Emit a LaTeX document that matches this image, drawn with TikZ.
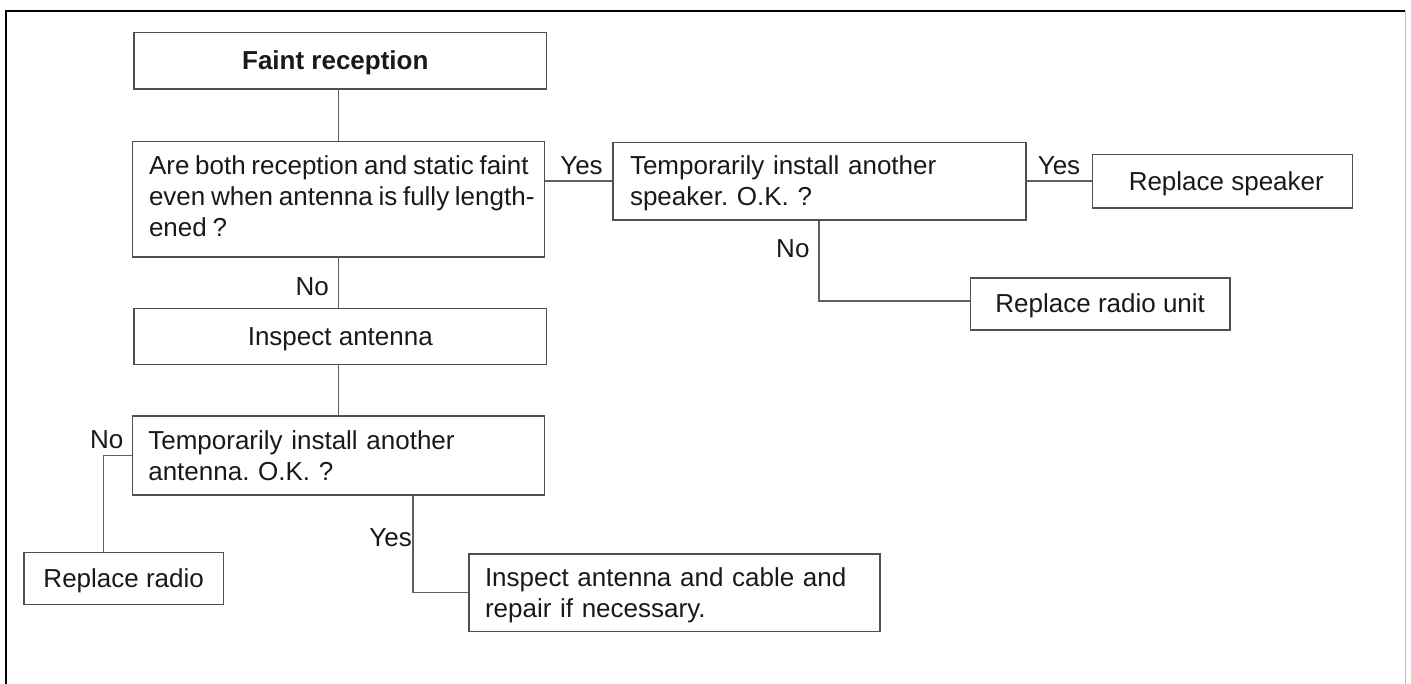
\documentclass[tikz,border=0pt]{standalone}
\usepackage{fontspec}
\setmainfont{Liberation Sans}
\definecolor{boxc}{RGB}{80,80,80}
\definecolor{linec}{RGB}{95,95,95}
\definecolor{txt}{RGB}{25,25,25}
\definecolor{framer}{RGB}{190,190,190}
\newcommand\myfs{\fontsize{13pt}{15.5pt}\selectfont}
\newcommand\oneline[1]{\makebox[0pt][l]{#1}}
\frenchspacing
\begin{document}
\begin{tikzpicture}[x=0.5pt,y=-0.5pt,
  every node/.style={font=\myfs, text=txt},
  box/.style={draw=boxc, line width=0.8pt, rectangle, inner ysep=0pt},
  cbox/.style={box, align=center, inner xsep=0pt, text height=9.5pt, text depth=0.5pt},
  lbox/.style={box, align=left, text height=9.8pt, text depth=16pt},
  conn/.style={draw=linec, line width=0.75pt},
  lbl/.style={inner sep=0pt, font=\myfs, text=txt}]
\useasboundingbox (0,0) rectangle (1411,684);
% outer frame
\draw[black, line width=1pt] (6,684) -- (6,11) -- (1405,11);
\draw[framer, line width=0.5pt] (1405,11) -- (1405,684);
% boxes
\node[cbox, minimum width=206.35pt, minimum height=28.3pt, font=\myfs\bfseries] (faint) at (340.3,61) {\hspace*{-5pt}Faint reception};
\node[lbox, minimum width=206pt, minimum height=57.5pt, text width=189.3pt, inner xsep=8.35pt, text height=7.3pt, text depth=31.5pt] (q1) at (338.3,199.2)
  {\spaceskip=2.85pt\relax\oneline{Are both reception and static faint}\\\oneline{even when antenna is fully length-}\\ened ?};
\node[cbox, minimum width=206.35pt, minimum height=28pt] (insp) at (340.3,336.3) {Inspect antenna};
\node[lbox, minimum width=206pt, minimum height=39.5pt, text width=190pt, inner xsep=8pt] (ant) at (338.3,455.5)
  {Temporarily install another\\antenna. O.K. ?};
\node[cbox, minimum width=99.65pt, minimum height=26pt] (radio) at (123.7,578.3) {Replace radio};
\node[lbox, minimum width=205.5pt, minimum height=38.65pt, text width=189.5pt, inner xsep=8pt] (cable) at (674.5,592.7)
  {Inspect antenna and cable and\\repair if necessary.};
\node[lbox, minimum width=206.5pt, minimum height=38.85pt, text width=189.2pt, inner xsep=8.65pt] (spk) at (819.2,181.2)
  {Temporarily install another\\speaker. O.K. ?};
\node[cbox, minimum width=130pt, minimum height=26.8pt] (rspk) at (1222.3,181.5) {\hspace*{4pt}Replace speaker};
\node[cbox, minimum width=129.85pt, minimum height=26.15pt] (runit) at (1100.2,303.9) {Replace radio unit};
% connectors
\draw[conn] (q1.north |- faint.south) -- (q1.north);
\draw[conn] (q1.south) -- node[lbl, pos=0.76, anchor=base east, xshift=-4.3pt] {No} (q1.south |- insp.north);
\draw[conn] (spk.west -| q1.east) -- node[lbl, midway, anchor=south, yshift=3pt, xshift=1.5pt] {Yes} (spk.west);
\draw[conn] (spk.east) -- node[lbl, midway, anchor=south, yshift=3pt] {Yes} (spk.east -| rspk.west);
\draw[conn] (spk.south) |- node[lbl, pos=0.2265, anchor=base east, xshift=-4.5pt] {No} ([yshift=1.5pt]runit.west);
\draw[conn] (ant.north |- insp.south) -- (ant.north);
\draw[conn] (ant.west) -| node[lbl, pos=0, anchor=base east, xshift=-3.65pt, yshift=3.6pt] {No} ([xshift=-10.2pt]radio.north);
\draw[conn] ([xshift=37.35pt]ant.south) |- node[lbl, pos=0.263, anchor=base east, xshift=-0.2pt] {Yes} (cable.west);
\end{tikzpicture}
\end{document}
